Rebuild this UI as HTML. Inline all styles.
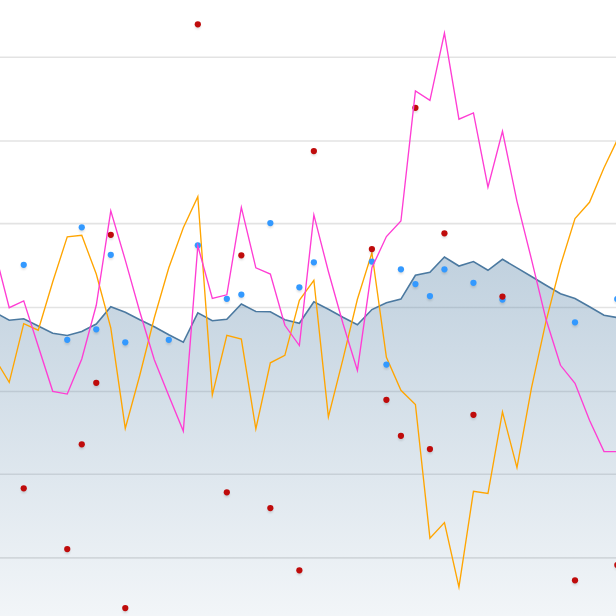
<!DOCTYPE html>
<html><head><meta charset="utf-8"><title>chart</title>
<style>
html,body{margin:0;padding:0;background:#fff;}
body{width:616px;height:616px;overflow:hidden;}
svg{display:block;}
</style></head><body>
<svg width="616" height="616" viewBox="0 0 616 616">
<defs>
<linearGradient id="ag" gradientUnits="userSpaceOnUse" x1="0" y1="250" x2="0" y2="640">
<stop offset="0" stop-color="#4b7aa1" stop-opacity="0.352"/>
<stop offset="1" stop-color="#4b7aa1" stop-opacity="0.055"/>
</linearGradient>
<filter id="sh" x="-50%" y="-50%" width="200%" height="220%"><feGaussianBlur stdDeviation="0.8"/></filter>
</defs>
<rect width="616" height="616" fill="#ffffff"/>
<g stroke="#e3e3e3" stroke-width="1.55">
<line x1="0" x2="616" y1="57.25" y2="57.25"/><line x1="0" x2="616" y1="141.05" y2="141.05"/><line x1="0" x2="616" y1="223.6" y2="223.6"/><line x1="0" x2="616" y1="307.55" y2="307.55"/><line x1="0" x2="616" y1="391.4" y2="391.4"/><line x1="0" x2="616" y1="474.25" y2="474.25"/><line x1="0" x2="616" y1="557.85" y2="557.85"/>
</g>
<polygon fill="url(#ag)" points="-5.28,312.30 9.23,320.30 23.73,318.80 38.24,326.05 52.75,333.30 67.25,335.55 81.76,331.55 96.27,324.05 110.78,306.80 125.28,312.30 139.79,319.80 154.30,326.80 168.80,334.80 183.31,342.25 197.82,312.86 212.32,320.80 226.83,319.30 241.34,304.05 255.85,311.55 270.35,311.80 284.86,319.80 299.37,323.30 313.87,301.82 328.38,309.30 342.89,317.30 357.40,324.80 371.90,309.55 386.41,302.80 400.92,299.05 415.42,275.30 429.93,272.30 444.44,257.06 458.94,266.05 473.45,261.55 487.96,270.30 502.47,259.30 516.97,267.90 531.48,276.50 545.99,285.20 560.49,293.80 575.00,298.55 589.51,306.70 604.01,315.30 618.52,317.80 618,640 -5.5,640"/>
<polyline fill="none" stroke="#4b79a0" stroke-width="1.6" stroke-linejoin="miter" stroke-miterlimit="10" points="-5.28,312.30 9.23,320.30 23.73,318.80 38.24,326.05 52.75,333.30 67.25,335.55 81.76,331.55 96.27,324.05 110.78,306.80 125.28,312.30 139.79,319.80 154.30,326.80 168.80,334.80 183.31,342.25 197.82,312.86 212.32,320.80 226.83,319.30 241.34,304.05 255.85,311.55 270.35,311.80 284.86,319.80 299.37,323.30 313.87,301.82 328.38,309.30 342.89,317.30 357.40,324.80 371.90,309.55 386.41,302.80 400.92,299.05 415.42,275.30 429.93,272.30 444.44,257.06 458.94,266.05 473.45,261.55 487.96,270.30 502.47,259.30 516.97,267.90 531.48,276.50 545.99,285.20 560.49,293.80 575.00,298.55 589.51,306.70 604.01,315.30 618.52,317.80"/>
<polyline fill="none" stroke="#ffa500" stroke-width="1.35" stroke-linejoin="miter" stroke-miterlimit="10" points="-5.28,358.30 9.23,382.36 23.73,323.65 38.24,330.22 52.75,281.80 67.25,236.80 81.76,235.30 96.27,274.05 110.78,327.80 125.28,428.36 139.79,375.30 154.30,317.80 168.80,267.80 183.31,227.80 197.82,196.69 212.32,394.85 226.83,335.35 241.34,339.05 255.85,428.97 270.35,362.80 284.86,355.30 299.37,300.30 313.87,280.30 328.38,416.85 342.89,359.30 357.40,299.30 371.90,252.88 386.41,357.30 400.92,390.30 415.42,404.55 429.93,538.17 444.44,522.60 458.94,587.19 473.45,491.35 487.96,493.51 502.47,411.93 516.97,467.68 531.48,387.80 545.99,321.30 560.49,265.30 575.00,218.55 589.51,202.30 604.01,167.80 618.52,137.30"/>
<g fill="#000" opacity="0.13" filter="url(#sh)">
<circle cx="23.73" cy="267.00" r="2.7"/><circle cx="81.76" cy="229.50" r="2.7"/><circle cx="110.78" cy="257.00" r="2.7"/><circle cx="96.27" cy="331.50" r="2.7"/><circle cx="67.25" cy="342.00" r="2.7"/><circle cx="125.28" cy="344.50" r="2.7"/><circle cx="168.8" cy="342.00" r="2.7"/><circle cx="197.82" cy="247.50" r="2.7"/><circle cx="226.83" cy="301.00" r="2.7"/><circle cx="241.34" cy="296.75" r="2.7"/><circle cx="270.35" cy="225.25" r="2.7"/><circle cx="299.37" cy="289.50" r="2.7"/><circle cx="313.87" cy="264.50" r="2.7"/><circle cx="371.9" cy="263.75" r="2.7"/><circle cx="386.41" cy="366.75" r="2.7"/><circle cx="400.92" cy="271.50" r="2.7"/><circle cx="415.42" cy="286.25" r="2.7"/><circle cx="429.93" cy="298.25" r="2.7"/><circle cx="444.44" cy="271.50" r="2.7"/><circle cx="473.45" cy="285.00" r="2.7"/><circle cx="502.47" cy="301.80" r="2.7"/><circle cx="575.0" cy="324.50" r="2.7"/><circle cx="617.2" cy="301.25" r="2.7"/><circle cx="23.73" cy="490.50" r="2.7"/><circle cx="67.25" cy="551.25" r="2.7"/><circle cx="81.76" cy="446.50" r="2.7"/><circle cx="96.27" cy="385.00" r="2.7"/><circle cx="110.78" cy="237.00" r="2.7"/><circle cx="125.28" cy="610.25" r="2.7"/><circle cx="197.82" cy="26.50" r="2.7"/><circle cx="226.83" cy="494.50" r="2.7"/><circle cx="241.34" cy="257.50" r="2.7"/><circle cx="270.35" cy="510.25" r="2.7"/><circle cx="299.37" cy="572.50" r="2.7"/><circle cx="313.87" cy="153.25" r="2.7"/><circle cx="371.9" cy="251.25" r="2.7"/><circle cx="386.41" cy="402.00" r="2.7"/><circle cx="400.92" cy="438.00" r="2.7"/><circle cx="415.42" cy="110.00" r="2.7"/><circle cx="429.93" cy="451.25" r="2.7"/><circle cx="444.44" cy="235.50" r="2.7"/><circle cx="473.45" cy="417.00" r="2.7"/><circle cx="502.47" cy="298.75" r="2.7"/><circle cx="575.0" cy="582.50" r="2.7"/><circle cx="617.3" cy="567.25" r="2.7"/>
</g>
<g fill="#3399ff">
<circle cx="23.73" cy="264.8" r="3.12"/><circle cx="81.76" cy="227.3" r="3.12"/><circle cx="110.78" cy="254.8" r="3.12"/><circle cx="96.27" cy="329.3" r="3.12"/><circle cx="67.25" cy="339.8" r="3.12"/><circle cx="125.28" cy="342.3" r="3.12"/><circle cx="168.8" cy="339.8" r="3.12"/><circle cx="197.82" cy="245.3" r="3.12"/><circle cx="226.83" cy="298.8" r="3.12"/><circle cx="241.34" cy="294.55" r="3.12"/><circle cx="270.35" cy="223.05" r="3.12"/><circle cx="299.37" cy="287.3" r="3.12"/><circle cx="313.87" cy="262.3" r="3.12"/><circle cx="371.9" cy="261.55" r="3.12"/><circle cx="386.41" cy="364.55" r="3.12"/><circle cx="400.92" cy="269.3" r="3.12"/><circle cx="415.42" cy="284.05" r="3.12"/><circle cx="429.93" cy="296.05" r="3.12"/><circle cx="444.44" cy="269.3" r="3.12"/><circle cx="473.45" cy="282.8" r="3.12"/><circle cx="502.47" cy="299.6" r="3.12"/><circle cx="575.0" cy="322.3" r="3.12"/><circle cx="617.2" cy="299.05" r="3.12"/>
</g>
<g fill="#bf0b0b">
<circle cx="23.73" cy="488.3" r="3.12"/><circle cx="67.25" cy="549.05" r="3.12"/><circle cx="81.76" cy="444.3" r="3.12"/><circle cx="96.27" cy="382.8" r="3.12"/><circle cx="110.78" cy="234.8" r="3.12"/><circle cx="125.28" cy="608.05" r="3.12"/><circle cx="197.82" cy="24.3" r="3.12"/><circle cx="226.83" cy="492.3" r="3.12"/><circle cx="241.34" cy="255.3" r="3.12"/><circle cx="270.35" cy="508.05" r="3.12"/><circle cx="299.37" cy="570.3" r="3.12"/><circle cx="313.87" cy="151.05" r="3.12"/><circle cx="371.9" cy="249.05" r="3.12"/><circle cx="386.41" cy="399.8" r="3.12"/><circle cx="400.92" cy="435.8" r="3.12"/><circle cx="415.42" cy="107.8" r="3.12"/><circle cx="429.93" cy="449.05" r="3.12"/><circle cx="444.44" cy="233.3" r="3.12"/><circle cx="473.45" cy="414.8" r="3.12"/><circle cx="502.47" cy="296.55" r="3.12"/><circle cx="575.0" cy="580.3" r="3.12"/><circle cx="617.3" cy="565.05" r="3.12"/>
</g>
<polyline fill="none" stroke="#ff3dd4" stroke-width="1.35" stroke-linejoin="miter" stroke-miterlimit="10" points="-5.28,251.30 9.23,307.70 23.73,300.88 38.24,346.30 52.75,391.30 67.25,394.04 81.76,359.05 96.27,305.30 110.78,210.88 125.28,260.10 139.79,311.80 154.30,359.80 168.80,395.80 183.31,431.05 197.82,245.79 212.32,298.50 226.83,294.80 241.34,207.28 255.85,267.80 270.35,274.05 284.86,325.30 299.37,345.55 313.87,214.95 328.38,271.50 342.89,323.30 357.40,370.46 371.90,267.80 386.41,236.55 400.92,221.05 415.42,91.01 429.93,100.38 444.44,33.12 458.94,119.18 473.45,112.91 487.96,187.23 502.47,131.33 516.97,201.30 531.48,259.30 545.99,319.30 560.49,365.30 575.00,383.30 589.51,420.30 604.01,451.55 618.52,451.55"/>
</svg>
</body></html>
